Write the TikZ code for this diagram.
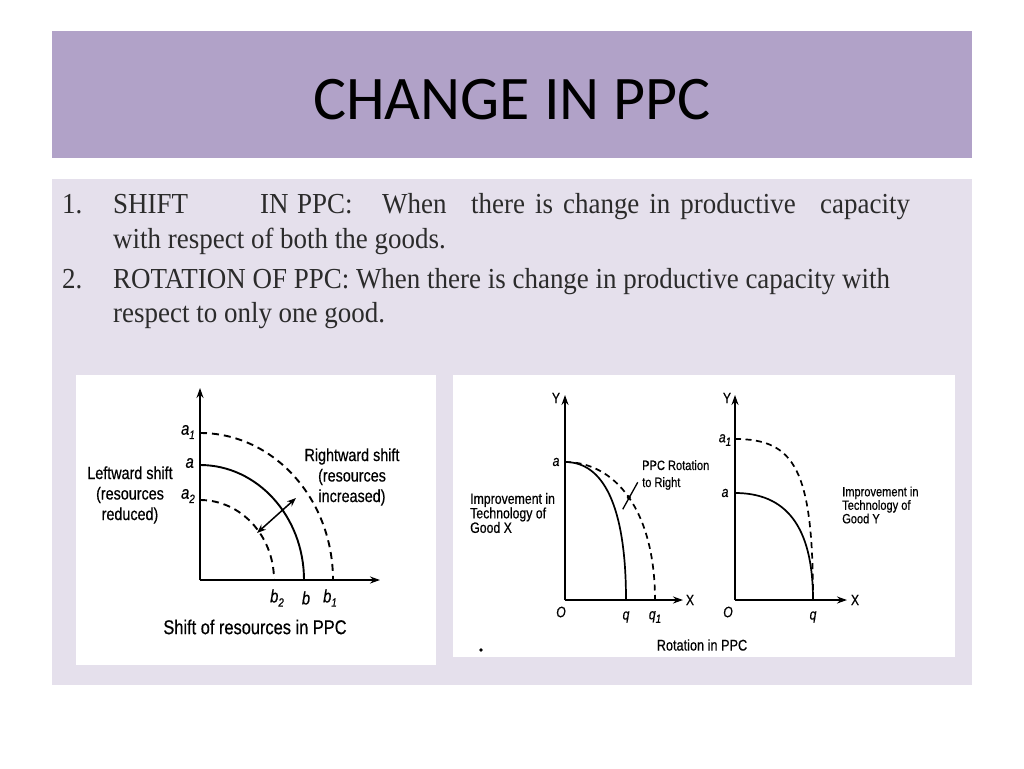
\documentclass[tikz,border=0pt]{standalone}
\usepackage{fontspec}
\usetikzlibrary{arrows.meta, positioning}
\setmainfont{Liberation Serif}
\newfontfamily\titlefont{Carlito}
\newfontfamily\bodyfont[FakeStretch=0.93]{Liberation Serif}
\newfontfamily\figfont[FakeStretch=0.82, FakeBold=0.5]{Liberation Sans}
\definecolor{bandlilac}{HTML}{B1A2C8}
\definecolor{panellilac}{HTML}{E5E0EC}
\definecolor{bodyink}{HTML}{2B2B2B}
\newcommand{\lowidx}[1]{\raisebox{-0.45ex}{\fontsize{12}{12}\selectfont #1}}
\newcommand{\wsp}{\hspace{10pt}}

\begin{document}
\begin{tikzpicture}[
  x=1pt, y=-1pt,
  slidetitle/.style={font=\titlefont\fontsize{62}{62}\selectfont, text=black, inner sep=0pt},
  bodytext/.style={anchor=base west, inner sep=0pt, font=\bodyfont\fontsize{29}{34}\selectfont, text=bodyink},
  figlabel/.style={font=\figfont\fontsize{17.5}{20.5}\selectfont, align=center, inner sep=0pt},
  smalllabel/.style={font=\figfont\fontsize{15}{14.5}\selectfont, align=left, inner sep=0pt, anchor=west},
  axlabel/.style={font=\figfont\itshape\fontsize{18}{18}\selectfont, inner sep=0pt},
  axisline/.style={line width=2.2pt, -{Stealth[length=10pt, width=7pt]}},
  curve/.style={line width=1.9pt},
  shifted/.style={curve, dash pattern=on 7pt off 5pt}
]
  \useasboundingbox (0,0) rectangle (1024,768);
  \fill[white] (0,0) rectangle (1024,768);

  % slide frame
  \fill[bandlilac] (52,31) rectangle (972,158);
  \fill[panellilac] (52,179) rectangle (972,685);
  \node[slidetitle] (title) at (512,100) {CHANGE IN PPC};

  \node[bodytext] (n1) at (62,213) {1.};
  \node[bodytext] (w1) at (113,213) {SHIFT};
  \node[bodytext] (w2) at (260,213) {IN};
  \node[bodytext] (w3) at (297,213) {PPC:};
  \node[bodytext] (w4) at (382,213) {When};
  \node[bodytext] (w5) at (471,213) {there\wsp is\wsp change\wsp in\wsp productive};
  \node[bodytext] (w6) at (820,213) {capacity};
  \node[bodytext] (l2) at (113,248) {with respect of both the goods.};
  \node[bodytext] (n2) at (62,288) {2.};
  \node[bodytext] (l3) at (113,288) {ROTATION OF PPC: When there is change in productive capacity with};
  \node[bodytext] (l4) at (113,322) {respect to only one good.};

  \fill[white] (76,375) rectangle (436,665);
  \fill[white] (453,375) rectangle (955,657);

  % shift of PPC
  \begin{scope}[shift={(200,580)}, yscale=-1]
    \coordinate (o1) at (0,0);
    \coordinate (y1) at (0,192);
    \coordinate (x1) at (180,0);
    \draw[axisline] (o1) -- (y1);
    \draw[axisline] (o1) -- (x1);
    \draw[curve] (0,115) arc[start angle=90, end angle=0, x radius=104, y radius=115];
    \draw[shifted] (0,147) arc[start angle=90, end angle=0, x radius=133, y radius=147];
    \draw[shifted] (0,80) arc[start angle=90, end angle=0, x radius=74, y radius=80];
    \coordinate (in1) at (57,47);
    \coordinate (out1) at (96,82);
    \draw[line width=1.5pt, {Stealth[length=9pt, width=7pt]}-{Stealth[length=9pt, width=7pt]}] (in1) -- (out1);
    \node[axlabel, anchor=east] (a1) at (-5,148) {a\lowidx{1}};
    \node[axlabel, anchor=east] (a0) at (-6,117) {a};
    \node[axlabel, anchor=east] (a2) at (-5,84) {a\lowidx{2}};
    \node[axlabel] (b2) at (77,-18) {b\lowidx{2}};
    \node[axlabel] (b0) at (106,-18) {b};
    \node[axlabel] (b1) at (130,-18) {b\lowidx{1}};
    \node[figlabel] (left) at (-70,85) {Leftward shift\\(resources\\reduced)};
    \node[figlabel] (right) at (152,103) {Rightward shift\\(resources\\increased)};
    \node[figlabel, font=\figfont\fontsize{20}{20}\selectfont] (cap1) at (55,-47) {Shift of resources in PPC};
  \end{scope}

  % rotation towards X
  \begin{scope}[shift={(565,600)}, yscale=-1]
    \coordinate (o2) at (0,0);
    \coordinate (y2) at (0,205);
    \coordinate (x2) at (118,0);
    \draw[axisline, line width=1.8pt] (o2) -- (y2);
    \draw[axisline, line width=1.8pt] (o2) -- (x2);
    \draw[curve, line width=1.7pt] (0,138) .. controls (38,138) and (61,95) .. (61,0);
    \draw[shifted, line width=1.7pt, dash pattern=on 6pt off 4.5pt] (0,138) .. controls (50,138) and (90,90) .. (90,0);
    \coordinate (rdot) at (63.75,102.75);
    \coordinate (cr1) at (57.75,90.75);
    \coordinate (cr2) at (72.75,117.75);
    \draw[line width=1.3pt] (cr1) -- (cr2);
    \fill (rdot) circle (2);
    \node[axlabel, font=\figfont\fontsize{15}{15}\selectfont] (ly2) at (-9,202) {Y};
    \node[axlabel, font=\figfont\fontsize{15}{15}\selectfont] (lx2) at (125,0) {X};
    \node[axlabel, font=\figfont\itshape\fontsize{15}{15}\selectfont] (lo2) at (-4,-12) {O};
    \node[axlabel, font=\figfont\itshape\fontsize{15}{15}\selectfont] (la2) at (-9,138) {a};
    \node[axlabel, font=\figfont\itshape\fontsize{15}{15}\selectfont] (lq2) at (61,-17) {q};
    \node[axlabel, font=\figfont\itshape\fontsize{15}{15}\selectfont] (lq21) at (90,-17) {q\lowidx{1}};
    \node[smalllabel, font=\figfont\fontsize{13.5}{17}\selectfont] (rot) at (77,125) {PPC Rotation\\to Right};
    \node[smalllabel] (techx) at (-95,87) {Improvement in\\Technology of\\Good X};
    \node[figlabel, font=\figfont\fontsize{15.5}{15.5}\selectfont] (cap2) at (137,-45) {Rotation in PPC};
  \end{scope}
  \fill (481,650) circle (1.8);

  % rotation towards Y
  \begin{scope}[shift={(735,600)}, yscale=-1]
    \coordinate (o3) at (0,0);
    \coordinate (y3) at (0,205);
    \coordinate (x3) at (112,0);
    \draw[axisline, line width=1.8pt] (o3) -- (y3);
    \draw[axisline, line width=1.8pt] (o3) -- (x3);
    \draw[curve, line width=1.7pt] (0,107) .. controls (50,107) and (78,75) .. (78,0);
    \draw[shifted, line width=1.7pt, dash pattern=on 6pt off 4.5pt] (0,161) .. controls (60,161) and (78,130) .. (78,0);
    \node[axlabel, font=\figfont\fontsize{15}{15}\selectfont] (ly3) at (-8,202) {Y};
    \node[axlabel, font=\figfont\fontsize{15}{15}\selectfont] (lx3) at (120,0) {X};
    \node[axlabel, font=\figfont\itshape\fontsize{15}{15}\selectfont] (lo3) at (-7,-12) {O};
    \node[axlabel, font=\figfont\itshape\fontsize{15}{15}\selectfont] (la31) at (-10,160) {a\lowidx{1}};
    \node[axlabel, font=\figfont\itshape\fontsize{15}{15}\selectfont] (la3) at (-10,107) {a};
    \node[axlabel, font=\figfont\itshape\fontsize{15}{15}\selectfont] (lq3) at (78,-17) {q};
    \node[smalllabel, font=\figfont\fontsize{13.5}{13.5}\selectfont] (techy) at (107,95) {Improvement in\\Technology of\\Good Y};
  \end{scope}
\end{tikzpicture}
\end{document}
